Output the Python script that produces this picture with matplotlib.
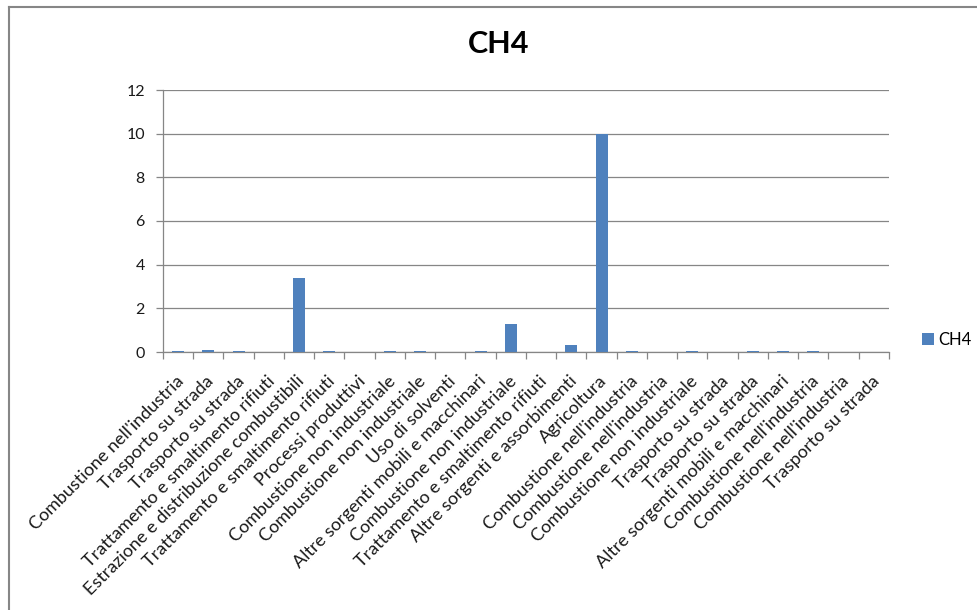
import matplotlib
matplotlib.use("Agg")
import matplotlib.pyplot as plt
from matplotlib.lines import Line2D
from matplotlib.patches import Patch
from matplotlib.transforms import ScaledTranslation
import numpy as np

plt.rcParams["font.family"] = ["Lato", "DejaVu Sans"]

categories = [
    "Combustione nell'industria",
    "Trasporto su strada",
    "Trasporto su strada",
    "Trattamento e smaltimento rifiuti",
    "Estrazione e distribuzione combustibili",
    "Trattamento e smaltimento rifiuti",
    "Processi produttivi",
    "Combustione non industriale",
    "Combustione non industriale",
    "Uso di solventi",
    "Altre sorgenti mobili e macchinari",
    "Combustione non industriale",
    "Trattamento e smaltimento rifiuti",
    "Altre sorgenti e assorbimenti",
    "Agricoltura",
    "Combustione nell'industria",
    "Combustione nell'industria",
    "Combustione non industriale",
    "Trasporto su strada",
    "Trasporto su strada",
    "Altre sorgenti mobili e macchinari",
    "Combustione nell'industria",
    "Combustione nell'industria",
    "Trasporto su strada",
]
ch4 = [0.06, 0.1, 0.05, 0.0, 3.4, 0.05, 0.0, 0.05, 0.05, 0.0, 0.05, 1.3,
       0.0, 0.3, 10.0, 0.05, 0.0, 0.05, 0.0, 0.05, 0.05, 0.05, 0.0, 0.0]
series_name = "CH4"
y_ticks = [0, 2, 4, 6, 8, 10, 12]

W, H = 978, 610
fig = plt.figure(figsize=(W / 100, H / 100), dpi=100)
fig.patch.set_facecolor("white")

# outer chart frame (left and top edges)
frame_color = "#868686"
fig.add_artist(Line2D([8.5 / W, 8.5 / W], [0, 1 - 6.5 / H], color=frame_color,
                      lw=1.5, transform=fig.transFigure))
fig.add_artist(Line2D([8.5 / W, 1], [1 - 6.5 / H, 1 - 6.5 / H], color=frame_color,
                      lw=1.5, transform=fig.transFigure))

left, right = 163 / W, 889 / W
bottom, top = 1 - 352 / H, 1 - 90 / H
ax = fig.add_axes([left, bottom, right - left, top - bottom])

bar_color = "#4F81BD"
x = np.arange(len(categories))
ax.bar(x, ch4, width=0.4, color=bar_color, zorder=3)

ax.set_xlim(-0.5, len(categories) - 0.5)
ax.set_ylim(0, 12)
ax.set_yticks(y_ticks)
ax.set_yticklabels([str(v) for v in y_ticks], fontsize=11.5, color="#1a1a1a")
ax.yaxis.grid(True, color="#868686", lw=0.9, zorder=0)

# category labels, tick marks between categories
ax.set_xticks(x)
ax.set_xticklabels(categories, rotation=45, ha="right", va="center",
                   rotation_mode="anchor", fontsize=13, color="#1a1a1a")
ax.tick_params(axis="x", which="major", length=0, pad=14)
shift = ScaledTranslation(3 / 100, -7 / 100, fig.dpi_scale_trans)
for lab in ax.get_xticklabels():
    lab.set_transform(lab.get_transform() + shift)
ax.set_xticks(np.arange(len(categories) + 1) - 0.5, minor=True)
ax.tick_params(axis="x", which="minor", length=5, width=0.9, color="#868686",
               direction="out")
ax.tick_params(axis="y", length=5, width=0.9, color="#868686", pad=8)

for s in ["top", "right"]:
    ax.spines[s].set_visible(False)
for s in ["left", "bottom"]:
    ax.spines[s].set_color("#868686")
    ax.spines[s].set_linewidth(0.9)

fig.text(499 / W, 1 - 44 / H, series_name, ha="center", va="center",
         fontsize=22, fontweight="bold", color="#000000")

handle = Patch(facecolor=bar_color, edgecolor="none")
fig.legend([handle], [series_name], loc="center left",
           bbox_to_anchor=(922 / W, 1 - 340 / H), frameon=False,
           fontsize=12, handlelength=0.75, handleheight=0.75,
           handletextpad=0.2, borderpad=0, borderaxespad=0)

fig.savefig("out.png", dpi=100)
